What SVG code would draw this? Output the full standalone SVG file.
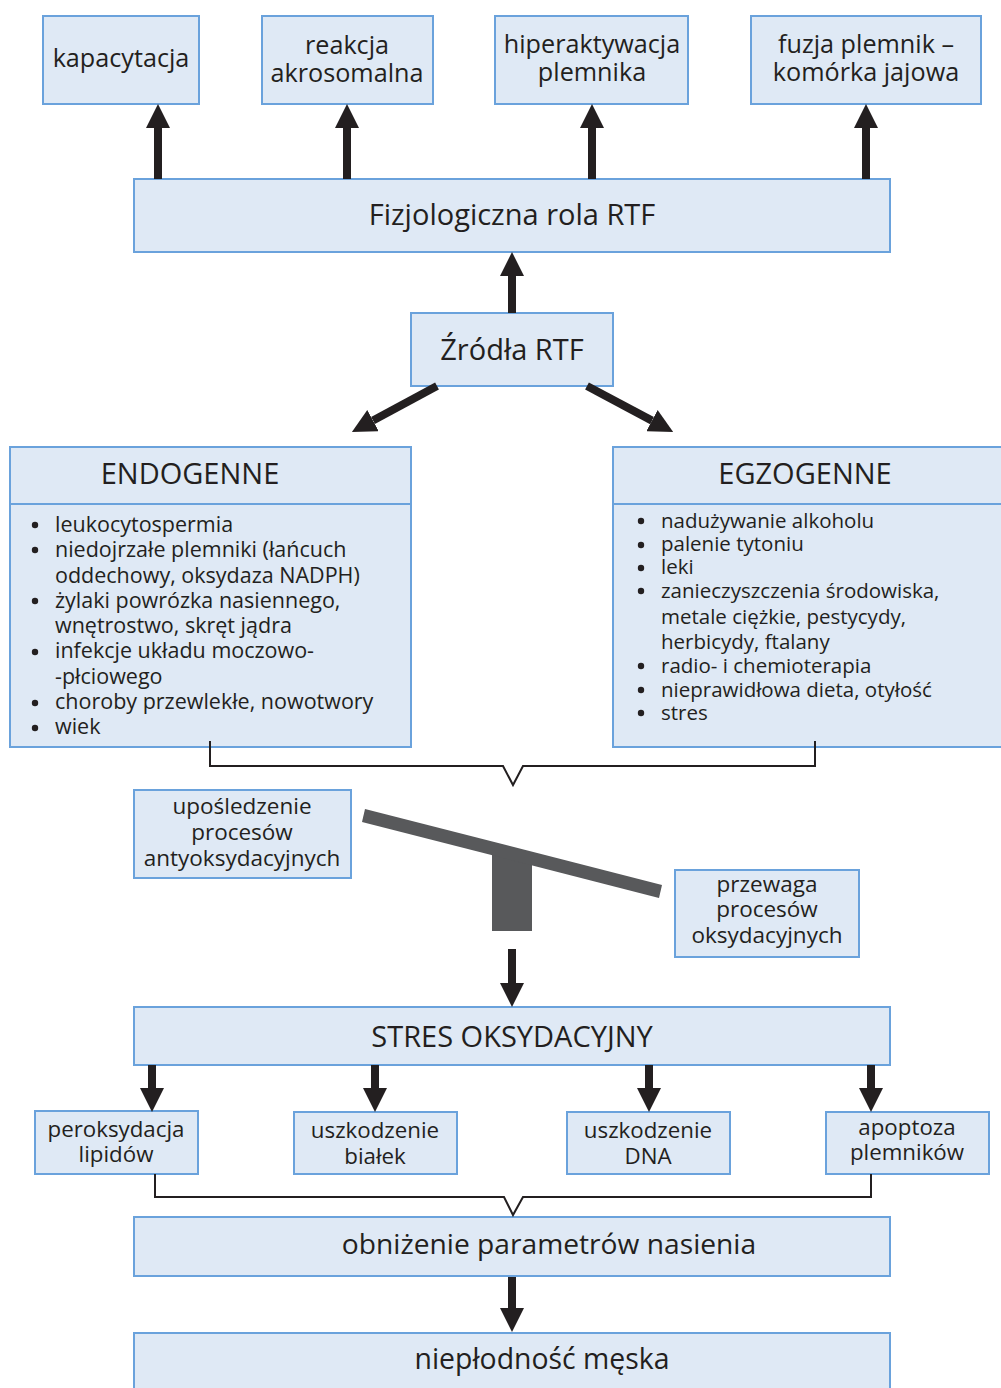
<svg xmlns="http://www.w3.org/2000/svg" width="1001" height="1388" viewBox="0 0 1001 1388">
<defs>
<style>
.box{fill:#dfe9f5;stroke:#6aa2dc;stroke-width:2}
text{font-family:"Open Sans","Noto Sans","Liberation Sans",sans-serif;fill:#231f20}
.c{text-anchor:middle}
.top{font-size:25.2px}
.big{font-size:29px}
.mid{font-size:22.5px}
.sm{font-size:22.3px}
.endo{font-size:21.5px}
.egzo{font-size:20.5px}
.arr{stroke:#231f20;stroke-width:8;fill:none}
.brk{stroke:#231f20;stroke-width:2;fill:none}
.bul{fill:#231f20}
</style>
<marker id="ah" markerUnits="userSpaceOnUse" markerWidth="24" markerHeight="24" refX="0" refY="12" orient="auto" viewBox="0 0 24 24">
<path d="M0,0 L24,12 L0,24 z" fill="#231f20"/>
</marker>
</defs>

<g id="kapacytacja"><rect class="box" x="43" y="16" width="156" height="88"/><text class="c top" x="121" y="67">kapacytacja</text></g>
<g id="reakcja"><rect class="box" x="262" y="16" width="171" height="88"/><text class="c top" x="347" y="54">reakcja<tspan x="347" dy="28">akrosomalna</tspan></text></g>
<g id="hiperaktywacja"><rect class="box" x="495" y="16" width="193" height="88"/><text class="c top" x="592" y="53">hiperaktywacja<tspan x="592" dy="28">plemnika</tspan></text></g>
<g id="fuzja"><rect class="box" x="751" y="16" width="230" height="88"/><text class="c top" x="866" y="53">fuzja plemnik –<tspan x="866" dy="28">komórka jajowa</tspan></text></g>

<g id="fizjologiczna"><rect class="box" x="134" y="179" width="756" height="73"/><text class="c big" x="512" y="225">Fizjologiczna rola RTF</text></g>
<g id="zrodla"><rect class="box" x="411" y="313" width="202" height="73"/><text class="c big" x="512" y="360">Źródła RTF</text></g>

<g id="endogenne"><rect class="box" x="10" y="447" width="401" height="300"/><line x1="10" y1="504" x2="411" y2="504" stroke="#6aa2dc" stroke-width="2"/>
<text class="c big" x="190" y="484">ENDOGENNE</text>
<text class="endo" x="55" y="532">leukocytospermia<tspan x="55" dy="25">niedojrzałe plemniki (łańcuch</tspan><tspan x="55" dy="25.5">oddechowy, oksydaza NADPH)</tspan><tspan x="55" dy="25.5">żylaki powrózka nasiennego,</tspan><tspan x="55" dy="25">wnętrostwo, skręt jądra</tspan><tspan x="55" dy="25">infekcje układu moczowo-</tspan><tspan x="55" dy="25.5">-płciowego</tspan><tspan x="55" dy="25">choroby przewlekłe, nowotwory</tspan><tspan x="55" dy="25">wiek</tspan></text>
<g class="bul"><circle cx="35" cy="525" r="3.2"/><circle cx="35" cy="550" r="3.2"/><circle cx="35" cy="601" r="3.2"/><circle cx="35" cy="652" r="3.2"/><circle cx="35" cy="703" r="3.2"/><circle cx="35" cy="728" r="3.2"/></g>
</g>

<g id="egzogenne"><rect class="box" x="613" y="447" width="400" height="300"/><line x1="613" y1="504" x2="1001" y2="504" stroke="#6aa2dc" stroke-width="2"/>
<text class="c big" x="805" y="484">EGZOGENNE</text>
<text class="egzo" x="661" y="528">nadużywanie alkoholu<tspan x="661" dy="23">palenie tytoniu</tspan><tspan x="661" dy="23">leki</tspan><tspan x="661" dy="24">zanieczyszczenia środowiska,</tspan><tspan x="661" dy="26">metale ciężkie, pestycydy,</tspan><tspan x="661" dy="25">herbicydy, ftalany</tspan><tspan x="661" dy="24">radio- i chemioterapia</tspan><tspan x="661" dy="24">nieprawidłowa dieta, otyłość</tspan><tspan x="661" dy="23">stres</tspan></text>
<g class="bul"><circle cx="641" cy="521" r="3.2"/><circle cx="641" cy="545" r="3.2"/><circle cx="641" cy="568" r="3.2"/><circle cx="641" cy="591" r="3.2"/><circle cx="641" cy="666" r="3.2"/><circle cx="641" cy="690" r="3.2"/><circle cx="641" cy="713" r="3.2"/></g>
</g>

<g id="uposledzenie"><rect class="box" x="134" y="790" width="217" height="88"/><text class="c mid" x="242" y="814">upośledzenie<tspan x="242" dy="26">procesów</tspan><tspan x="242" dy="26">antyoksydacyjnych</tspan></text></g>
<g id="przewaga"><rect class="box" x="675" y="870" width="184" height="87"/><text class="c mid" x="767" y="892">przewaga<tspan x="767" dy="25">procesów</tspan><tspan x="767" dy="26">oksydacyjnych</tspan></text></g>

<g id="seesaw" fill="#58595b"><rect x="492" y="852" width="40" height="79"/><polygon points="365,809 362,822 659,898 662,885"/></g>

<g id="stres"><rect class="box" x="134" y="1007" width="756" height="58"/><text class="c big" x="512" y="1047">STRES OKSYDACYJNY</text></g>

<g id="peroksydacja"><rect class="box" x="35" y="1111" width="163" height="63"/><text class="c sm" x="116" y="1137">peroksydacja<tspan x="116" dy="25">lipidów</tspan></text></g>
<g id="bialek"><rect class="box" x="294" y="1112" width="163" height="62"/><text class="c sm" x="375" y="1138">uszkodzenie<tspan x="375" dy="26">białek</tspan></text></g>
<g id="dna"><rect class="box" x="567" y="1112" width="163" height="62"/><text class="c sm" x="648" y="1138">uszkodzenie<tspan x="648" dy="26">DNA</tspan></text></g>
<g id="apoptoza"><rect class="box" x="826" y="1112" width="163" height="62"/><text class="c sm" x="907" y="1135">apoptoza<tspan x="907" dy="25">plemników</tspan></text></g>

<g id="obnizenie"><rect class="box" x="134" y="1217" width="756" height="59"/><text class="c big" x="549" y="1254" style="font-size:28.2px">obniżenie parametrów nasienia</text></g>
<g id="nieplodnosc"><rect class="box" x="134" y="1333" width="756" height="60"/><text class="c big" x="542" y="1369" style="font-size:28.4px">niepłodność męska</text></g>

<g id="connectors">
<line class="arr" x1="158" y1="179" x2="158" y2="128" marker-end="url(#ah)"/>
<line class="arr" x1="347" y1="179" x2="347" y2="128" marker-end="url(#ah)"/>
<line class="arr" x1="592" y1="179" x2="592" y2="128" marker-end="url(#ah)"/>
<line class="arr" x1="866" y1="179" x2="866" y2="128" marker-end="url(#ah)"/>
<line class="arr" x1="512" y1="313" x2="512" y2="276" marker-end="url(#ah)"/>
<line class="arr" x1="437" y1="386" x2="373" y2="420.6" marker-end="url(#ah)"/>
<line class="arr" x1="587" y1="386" x2="652" y2="420.6" marker-end="url(#ah)"/>
<path class="brk" d="M210,741 V766 H503 L513,785 L523,766 H815 V741"/>
<line class="arr" x1="512" y1="949" x2="512" y2="983" marker-end="url(#ah)"/>
<line class="arr" x1="152" y1="1065" x2="152" y2="1088" marker-end="url(#ah)"/>
<line class="arr" x1="375" y1="1065" x2="375" y2="1088" marker-end="url(#ah)"/>
<line class="arr" x1="649" y1="1065" x2="649" y2="1088" marker-end="url(#ah)"/>
<line class="arr" x1="871" y1="1065" x2="871" y2="1088" marker-end="url(#ah)"/>
<path class="brk" d="M155,1174 V1197 H504 L513,1215 L523,1197 H871 V1174"/>
<line class="arr" x1="512" y1="1277" x2="512" y2="1308" marker-end="url(#ah)"/>
</g>
</svg>
